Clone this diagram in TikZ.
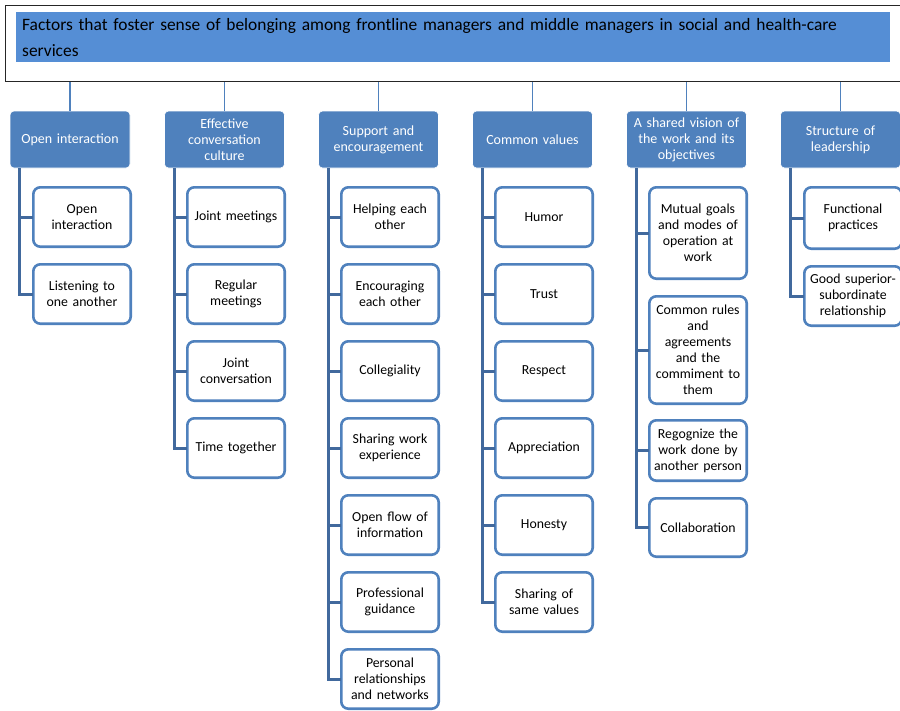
\documentclass[tikz,border=0pt]{standalone}
\usepackage{fontspec}
\setmainfont{Carlito}
\usetikzlibrary{positioning}

\definecolor{titleblue}{HTML}{558ED5}
\definecolor{boxblue}{HTML}{4F81BD}
\definecolor{spineblue}{HTML}{41699D}

\tikzset{
  frame/.style={draw=black!85,line width=1pt,inner sep=0pt},
  titlebox/.style={fill=titleblue,inner xsep=6pt,inner ysep=0pt,minimum width=874pt,minimum height=50pt,
    text width=862pt,align=left,font=\fontsize{17.4}{26}\selectfont},
  topbox/.style={fill=boxblue,draw=white,line width=0.6pt,rounded corners=4pt,minimum width=120pt,
    minimum height=57pt,text width=118pt,inner sep=0pt,align=center,text=white,
    font=\fontsize{14}{16}\selectfont},
  item/.style={draw=boxblue,fill=white,line width=2.6pt,outer sep=0pt,rounded corners=7pt,
    minimum width=97.4pt,minimum height=59.4pt,text width=96pt,inner sep=0pt,align=center,
    font=\fontsize{13.8}{16}\selectfont},
  link/.style={draw=boxblue,line width=1.3pt},
  spine/.style={draw=spineblue,line width=3pt}
}

\begin{document}
\begin{tikzpicture}[x=1pt,y=1pt,node distance=17.6pt]
\useasboundingbox (0,0) rectangle (900,-710);

% header
\node[frame,anchor=north west,minimum width=915pt,minimum height=76pt] (frame) at (5,-5) {};
\node[titlebox,anchor=north west] (title) at (16,-12)
  {Factors that foster sense of belonging among frontline managers and middle managers in social and health-care\\services};

% main factors
\node[topbox] (cat1) at (70,-139.5) {Open interaction};
\node[topbox] (cat2) at (224.5,-139.5) {Effective\\conversation\\culture};
\node[topbox] (cat3) at (378.5,-139.5) {Support and\\encouragement};
\node[topbox] (cat4) at (532.5,-139.5) {Common values};
\node[topbox] (cat5) at (686.5,-139.5) {A shared vision of\\the work and its\\objectives};
\node[topbox] (cat6) at (840.5,-139.5) {Structure of\\leadership};

\foreach \c in {1,...,6}
  \draw[link] (cat\c.north |- frame.south) -- (cat\c.north);

% open interaction
\node[item,anchor=north west] (a1) at (33.3,-187.3) {Open\\interaction};
\node[item,below=of a1] (a2) {Listening to\\one another};

% effective conversation culture
\node[item,anchor=north west] (b1) at (187.3,-187.3) {Joint meetings};
\node[item,below=of b1] (b2) {Regular\\meetings};
\node[item,below=of b2] (b3) {Joint\\conversation};
\node[item,below=of b3] (b4) {Time together};

% support and encouragement
\node[item,anchor=north west] (d1) at (341.3,-187.3) {Helping each\\other};
\node[item,below=of d1] (d2) {Encouraging\\each other};
\node[item,below=of d2] (d3) {Collegiality};
\node[item,below=of d3] (d4) {Sharing work\\experience};
\node[item,below=of d4] (d5) {Open flow of\\information};
\node[item,below=of d5] (d6) {Professional\\guidance};
\node[item,below=of d6] (d7) {Personal\\relationships\\and networks};

% common values
\node[item,anchor=north west] (e1) at (495.3,-187.3) {Humor};
\node[item,below=of e1] (e2) {Trust};
\node[item,below=of e2] (e3) {Respect};
\node[item,below=of e3] (e4) {Appreciation};
\node[item,below=of e4] (e5) {Honesty};
\node[item,below=of e5] (e6) {Sharing of\\same values};

% shared vision
\node[item,anchor=north west,minimum height=91.4pt] (f1) at (649.3,-187.3) {Mutual goals\\and modes of\\operation at\\work};
\node[item,below=of f1,minimum height=107.4pt] (f2) {Common rules\\and\\agreements\\and the\\commiment to\\them};
\node[item,below=16.6pt of f2,minimum height=60.4pt] (f3) {Regognize the\\work done by\\another person};
\node[item,below=of f3,minimum height=58.4pt] (f4) {Collaboration};

% structure of leadership
\node[item,anchor=north west,minimum height=61.4pt] (g1) at (804.3,-187.3) {Functional\\practices};
\node[item,below=of g1] (g2) {Good superior-\\subordinate\\relationship};

% spines
\coordinate (s1) at ([xshift=10pt]cat1.south west);
\coordinate (s2) at ([xshift=10pt]cat2.south west);
\coordinate (s3) at ([xshift=10pt]cat3.south west);
\coordinate (s4) at ([xshift=10pt]cat4.south west);
\coordinate (s5) at ([xshift=10pt]cat5.south west);
\coordinate (s6) at ([xshift=10pt]cat6.south west);

\foreach \n in {a1,a2} \draw[spine] (s1) |- (\n.west);
\foreach \n in {b1,b2,b3,b4} \draw[spine] (s2) |- (\n.west);
\foreach \n in {d1,d2,d3,d4,d5,d6,d7} \draw[spine] (s3) |- (\n.west);
\foreach \n in {e1,e2,e3,e4,e5,e6} \draw[spine] (s4) |- (\n.west);
\foreach \n in {f1,f2,f3,f4} \draw[spine] (s5) |- (\n.west);
\foreach \n in {g1,g2} \draw[spine] (s6) |- (\n.west);

\end{tikzpicture}
\end{document}
